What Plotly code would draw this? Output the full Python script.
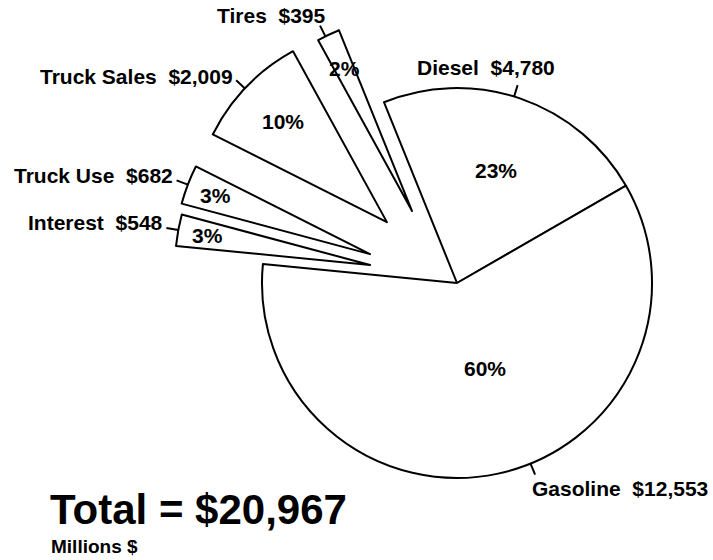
import math
import plotly.graph_objects as go

# Highway-user revenue by source, millions of dollars
categories = ["Diesel", "Gasoline", "Interest", "Truck Use", "Truck Sales", "Tires"]
values = [4780, 12553, 548, 682, 2009, 395]
total = sum(values)

W, H = 713, 560
CX, CY, R = 457, 283, 195          # pie centre and radius in pixels
START = 112                         # where Diesel begins, degrees ccw from 3 o'clock
explode = [0, 0, 0.455, 0.47, 0.476, 0.435]   # pull-out as a fraction of R
explode_da = [0, 0, -1.4, 2.5, 3, 6.6]         # pull direction nudge, degrees

# percentage label placement: radial fraction and angle nudge
pct_r = [0.61, 0.46, 0.85, 0.85, 0.74, 0.81]
pct_da = [0, 6, 0, 0, 0, 0]
# leader tick angle nudge
tick_da = [2, 10, 0, 0, 0.7, 1]
# outer label centres in pixels
label_xy = [(486, 67), (620, 488), (95, 223), (93, 175), (136, 77), (271, 15)]

FONT = "Liberation Sans, Arial, Helvetica, sans-serif"


def px(x, y):
    return x / W, 1 - y / H


# slice angles (clockwise from START)
angles = []
acc = 0
for v in values:
    a0 = START - 360 * acc / total
    acc += v
    a1 = START - 360 * acc / total
    angles.append((a0, a1, (a0 + a1) / 2))

fig = go.Figure()
annotations = []
shapes = []

# Gasoline and Diesel sit at the centre; every other slice gets its own
# copy of the pie, shifted outward along its mid-angle.
groups = [[0, 1]] + [[i] for i in range(2, len(values))]
for grp in groups:
    i0 = grp[0]
    pull_dir = math.radians(angles[i0][2] + explode_da[i0])
    e = explode[i0]
    cx = CX + e * R * math.cos(pull_dir)
    cy = CY - e * R * math.sin(pull_dir)
    fill = ["white" if k in grp else "rgba(0,0,0,0)" for k in range(len(values))]
    lw = [2 if k in grp else 0 for k in range(len(values))]
    fig.add_trace(go.Pie(
        labels=categories,
        values=values,
        sort=False,
        direction="clockwise",
        rotation=90 - START,
        textinfo="none",
        hoverinfo="label+value+percent",
        marker=dict(colors=fill, line=dict(color="black", width=lw)),
        domain=dict(x=[(cx - R) / W, (cx + R) / W],
                    y=[1 - (cy + R) / H, 1 - (cy - R) / H]),
        showlegend=False,
    ))
    for k in grp:
        a0, a1, m = angles[k]
        # percentage inside the slice
        pa = math.radians(m + pct_da[k])
        tx = cx + pct_r[k] * R * math.cos(pa)
        ty = cy - pct_r[k] * R * math.sin(pa)
        x, y = px(tx, ty)
        annotations.append(dict(
            x=x, y=y, xref="paper", yref="paper", showarrow=False,
            text=f"{round(100 * values[k] / total)}%",
            font=dict(family=FONT, size=21, color="black", weight="bold"),
            xanchor="center", yanchor="middle"))
        # leader tick on the rim
        ta = math.radians(m + tick_da[k])
        x0, y0 = px(cx + R * math.cos(ta), cy - R * math.sin(ta))
        x1, y1 = px(cx + (R + 12) * math.cos(ta), cy - (R + 12) * math.sin(ta))
        shapes.append(dict(type="line", xref="paper", yref="paper",
                           x0=x0, y0=y0, x1=x1, y1=y1,
                           line=dict(color="black", width=2)))
        # outer label
        lx, ly = px(*label_xy[k])
        annotations.append(dict(
            x=lx, y=ly, xref="paper", yref="paper", showarrow=False,
            text=f"{categories[k]}  ${values[k]:,}",
            font=dict(family=FONT, size=21, color="black", weight="bold"),
            xanchor="center", yanchor="middle"))

tx, ty = px(48, 509)
annotations.append(dict(
    x=tx, y=ty, xref="paper", yref="paper", showarrow=False,
    text=f"Total = ${total:,}",
    font=dict(family=FONT, size=42, color="black", weight="bold"),
    xanchor="left", yanchor="middle"))
mx, my = px(49, 546)
annotations.append(dict(
    x=mx, y=my, xref="paper", yref="paper", showarrow=False,
    text="Millions $",
    font=dict(family=FONT, size=19, color="black", weight="bold"),
    xanchor="left", yanchor="middle"))

fig.update_layout(
    width=W, height=H,
    margin=dict(l=0, r=0, t=0, b=0),
    paper_bgcolor="white", plot_bgcolor="white",
    annotations=annotations, shapes=shapes,
)

fig.write_html("out.html", config={"displayModeBar": False})
